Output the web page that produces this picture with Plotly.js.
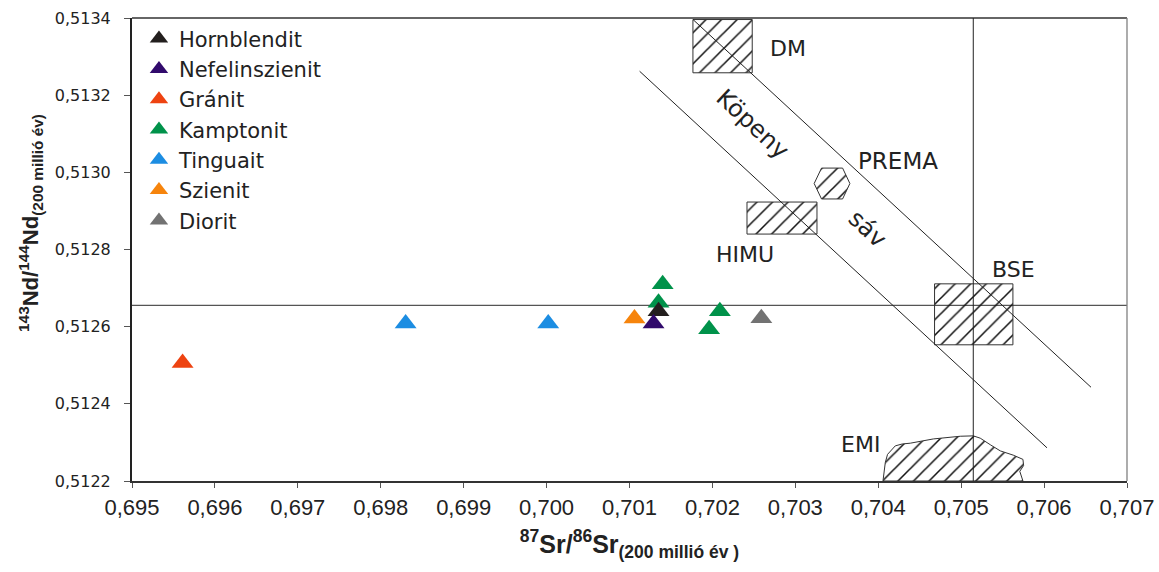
<!DOCTYPE html>
<html>
<head>
<meta charset="utf-8">
<script src="https://cdn.plot.ly/plotly-3.0.1.min.js"></script>
<style>
  html, body { margin: 0; padding: 0; background: #fff; }
  #chart { width: 1159px; height: 572px; }
</style>
</head>
<body>
<div id="chart"></div>
<script>
// Rock types and their 87Sr/86Sr – 143Nd/144Nd ratios (recalculated to 200 Ma)
const hornblenditSr = [0.70135];
const hornblenditNd = [0.512640];
const nefelinszienitSr = [0.70129];
const nefelinszienitNd = [0.512608];
const granitSr = [0.69561];
const granitNd = [0.512506];
const kamptonitSr = [0.70140, 0.70135, 0.70209, 0.70196];
const kamptonitNd = [0.512710, 0.512662, 0.512640, 0.512593];
const tinguaitSr = [0.69830, 0.70002];
const tinguaitNd = [0.512608, 0.512608];
const szienitSr = [0.70106];
const szienitNd = [0.512621];
const dioritSr = [0.70259];
const dioritNd = [0.512622];

// Mantle reservoirs
const dmSr = [0.701765, 0.702480, 0.702480, 0.701765, 0.701765];
const dmNd = [0.513396, 0.513396, 0.513258, 0.513258, 0.513396];
const himuSr = [0.702417, 0.703261, 0.703261, 0.702417, 0.702417];
const himuNd = [0.512923, 0.512923, 0.512840, 0.512840, 0.512923];
const bseSr = [0.704679, 0.705624, 0.705624, 0.704679, 0.704679];
const bseNd = [0.512711, 0.512711, 0.512553, 0.512553, 0.512711];
const premaSr = [0.703227, 0.703316, 0.703570, 0.703658, 0.703570, 0.703316, 0.703227];
const premaNd = [0.512971, 0.513011, 0.513011, 0.512971, 0.512931, 0.512931, 0.512971];
const emiSr = [0.704057, 0.704073, 0.704085, 0.704112, 0.704165, 0.704205, 0.704290, 0.704386,
               0.704664, 0.704989, 0.705146, 0.705230, 0.705351, 0.705472, 0.705628, 0.705745,
               0.705753, 0.705707, 0.705745, 0.704057];
const emiNd = [0.512200, 0.512230, 0.512248, 0.512269, 0.512282, 0.512291, 0.512296, 0.512298,
               0.512309, 0.512316, 0.512317, 0.512311, 0.512294, 0.512278, 0.512267, 0.512256,
               0.512240, 0.512225, 0.512200, 0.512200];

// Bulk Earth reference values and the mantle array band edges
const bulkSr = 0.705146;
const bulkNd = 0.512655;
const bandUpperSr = [0.701766, 0.706566];
const bandUpperNd = [0.513396, 0.512443];
const bandLowerSr = [0.701122, 0.706035];
const bandLowerNd = [0.513262, 0.512286];

// Reservoir labels
const labelText = ['DM', 'Köpeny', 'sáv', 'PREMA', 'HIMU', 'BSE', 'EMI'];
const labelSr = [0.702915, 0.702481, 0.703874, 0.704241, 0.702396, 0.705628, 0.703783];
const labelNd = [0.513320, 0.513124, 0.512854, 0.513030, 0.512787, 0.512748, 0.512295];
const labelAngle = [0, 43, 43, 0, 0, 0, 0];
const labelSize = [22, 24, 24, 23, 22, 22, 22];

const xTicks = ['0,695','0,696','0,697','0,698','0,699','0,700','0,701','0,702','0,703','0,704','0,705','0,706','0,707'];
const yTicks = ['0,5122','0,5124','0,5126','0,5128','0,5130','0,5132','0,5134'];

const markerSize = 19;
function rock(name, xs, ys, color, rank) {
  return {
    type: 'scatter', mode: 'markers', name: name, x: xs, y: ys, legendrank: rank,
    marker: { symbol: 'triangle-up', size: markerSize, color: color, line: { width: 0 } },
    hoverinfo: 'x+y+name'
  };
}
function reservoir(xs, ys) {
  return {
    type: 'scatter', mode: 'lines', x: xs, y: ys, fill: 'toself', showlegend: false,
    hoverinfo: 'skip', line: { color: '#333', width: 1 },
    fillcolor: 'rgba(0,0,0,0)',
    fillpattern: { shape: '/', size: 11, solidity: 0.14, fgcolor: '#111', bgcolor: 'rgba(0,0,0,0)', fillmode: 'replace' }
  };
}

const traces = [
  reservoir(dmSr, dmNd),
  reservoir(himuSr, himuNd),
  reservoir(bseSr, bseNd),
  reservoir(premaSr, premaNd),
  reservoir(emiSr, emiNd),
  rock('Gránit', granitSr, granitNd, '#ee4311', 3),
  rock('Tinguait', tinguaitSr, tinguaitNd, '#1c8de2', 5),
  rock('Szienit', szienitSr, szienitNd, '#f6840c', 6),
  rock('Diorit', dioritSr, dioritNd, '#727272', 7),
  rock('Kamptonit', kamptonitSr, kamptonitNd, '#00924a', 4),
  rock('Hornblendit', hornblenditSr, hornblenditNd, '#231f1e', 1),
  rock('Nefelinszienit', nefelinszienitSr, nefelinszienitNd, '#310a6c', 2)
];

const xRange = [0.695, 0.707];
const yRange = [0.5122, 0.5134];

const shapes = [
  // frame
  { type: 'line', xref: 'paper', yref: 'paper', x0: 0, x1: 1, y0: 1, y1: 1, line: { color: '#333', width: 1.3 } },
  { type: 'line', xref: 'paper', yref: 'paper', x0: 1, x1: 1, y0: 0, y1: 1, line: { color: '#808080', width: 1.3 } },
  // bulk Earth cross
  { type: 'line', layer: 'below', x0: xRange[0], x1: xRange[1], y0: bulkNd, y1: bulkNd, line: { color: '#555', width: 1.3 } },
  { type: 'line', x0: bulkSr, x1: bulkSr, y0: yRange[0], y1: yRange[1], line: { color: '#222', width: 1 } },
  // mantle array band
  { type: 'line', x0: bandUpperSr[0], x1: bandUpperSr[1], y0: bandUpperNd[0], y1: bandUpperNd[1], line: { color: '#222', width: 1 } },
  { type: 'line', x0: bandLowerSr[0], x1: bandLowerSr[1], y0: bandLowerNd[0], y1: bandLowerNd[1], line: { color: '#222', width: 1 } }
];

const annotations = labelText.map((t, i) => ({
  text: t, x: labelSr[i], y: labelNd[i], xref: 'x', yref: 'y', showarrow: false,
  textangle: labelAngle[i], font: { family: 'DejaVu Sans', size: labelSize[i], color: '#222' }
}));
annotations.push({
  text: '<b><sup>143</sup>Nd/<sup>144</sup>Nd<sub>(200 millió év)</sub></b>',
  xref: 'paper', yref: 'paper', x: -0.1022, y: 0.558, textangle: -90, showarrow: false,
  xanchor: 'center', yanchor: 'middle',
  font: { family: 'Liberation Sans', size: 22, color: '#222' }
});

const layout = {
  width: 1159, height: 572,
  margin: { l: 132, r: 32, t: 18, b: 91, pad: 0 },
  paper_bgcolor: '#fff', plot_bgcolor: '#fff',
  separators: ', ',
  showlegend: true,
  legend: {
    x: 0.007, y: 0.999, xanchor: 'left', yanchor: 'top', bgcolor: 'rgba(0,0,0,0)',
    font: { family: 'DejaVu Sans', size: 21, color: '#222' }, traceorder: 'normal'
  },
  xaxis: {
    range: xRange, tickmode: 'array',
    tickvals: xTicks.map((t, i) => xRange[0] + i * 0.001), ticktext: xTicks,
    showgrid: false, zeroline: false, showline: true, linecolor: '#333', linewidth: 1.5,
    ticks: 'outside', ticklen: 5, tickcolor: '#555', tickwidth: 1, ticklabelstandoff: 1,
    tickfont: { family: 'Liberation Sans Narrow, Liberation Sans', size: 22, color: '#222' },
    title: {
      text: '<b><sup>87</sup>Sr/<sup>86</sup>Sr<sub>(200 millió év )</sub></b>',
      font: { family: 'Liberation Sans Narrow, Liberation Sans', size: 25, color: '#222' },
      standoff: 16
    }
  },
  yaxis: {
    range: yRange, tickmode: 'array',
    tickvals: yTicks.map((t, i) => yRange[0] + i * 0.0002), ticktext: yTicks,
    showgrid: false, zeroline: false, showline: true, linecolor: '#222', linewidth: 2,
    ticks: 'outside', ticklen: 6, tickcolor: '#555', tickwidth: 1, ticklabelstandoff: 10,
    tickfont: { family: 'DejaVu Sans', size: 16, color: '#222' }
  },
  shapes: shapes,
  annotations: annotations
};

Plotly.newPlot('chart', traces, layout, { displayModeBar: false, staticPlot: true });
</script>
</body>
</html>
